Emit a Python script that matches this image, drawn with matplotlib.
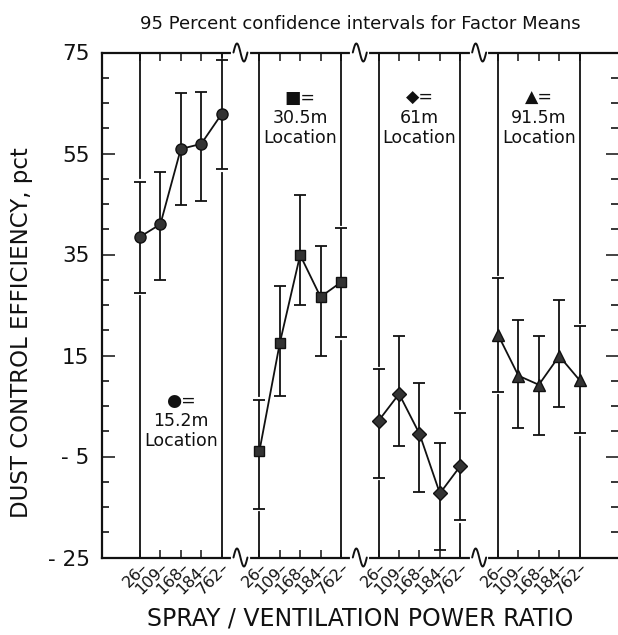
import numpy as np
import matplotlib
matplotlib.use("Agg")
import matplotlib.pyplot as plt
from matplotlib.ticker import MultipleLocator, FixedLocator

plt.rcParams['font.family'] = ['DejaVu Sans']

# ---------------- data ----------------
ratios = ["26", "109", "168", "184", "762"]
locations = ["15.2m", "30.5m", "61m", "91.5m"]
symbols = ["\u25CF", "\u25A0", "\u25C6", "\u25B2"]
markers = ["o", "s", "D", "^"]

mean_152 = [38.5, 41.0, 55.9, 56.9, 62.8]
low_152 = [27.4, 30.0, 44.8, 45.5, 51.9]
up_152 = [49.4, 51.3, 66.9, 67.2, 73.5]

mean_305 = [-4.0, 17.4, 34.9, 26.6, 29.5]
low_305 = [-15.3, 7.0, 25.0, 15.0, 18.6]
up_305 = [6.2, 28.8, 46.8, 36.7, 40.2]

mean_61 = [2.1, 7.4, -0.5, -12.3, -6.9]
low_61 = [-9.2, -2.9, -12.1, -23.5, -17.6]
up_61 = [12.3, 18.9, 9.5, -2.4, 3.7]

mean_915 = [19.1, 11.0, 9.2, 14.9, 10.1]
low_915 = [7.8, 0.6, -0.7, 4.9, -0.4]
up_915 = [30.3, 22.0, 18.9, 26.0, 20.8]

means = [mean_152, mean_305, mean_61, mean_915]
lows = [low_152, low_305, low_61, low_915]
ups = [up_152, up_305, up_61, up_915]

ytick_vals = [75, 55, 35, 15, -5, -25]
ytick_labels = ["75", "55", "35", "15", "- 5", "- 25"]

title = "95 Percent confidence intervals for Factor Means"
xlabel = "SPRAY / VENTILATION POWER RATIO"
ylabel = "DUST CONTROL EFFICIENCY, pct"

# ---------------- layout ----------------
W, H = 618, 635
fig = plt.figure(figsize=(W / 100, H / 100), dpi=100)
ax_l, ax_r, ax_t, ax_b = 102, 618, 52.5, 557.5
ax = fig.add_axes([ax_l / W, 1 - ax_b / H, (ax_r - ax_l) / W, (ax_b - ax_t) / H])

unit = 20.4
goff = 5.85
ax.set_xlim((ax_l - 140) / unit, (ax_r - 140) / unit)
ax.set_ylim(-25, 75)

ink = "#111111"
face = "#333333"
lw = 1.3

all_x = []
for g in range(4):
    xs = g * goff + np.arange(5)
    all_x.extend(xs)
    m = np.array(means[g])
    lo = np.array(lows[g])
    hi = np.array(ups[g])
    # vertical dividers at first/last ratio with small gaps near the caps
    for j in (0, 4):
        gap = 0.7
        ax.plot([xs[j], xs[j]], [-25, lo[j] - gap], color=ink, lw=lw, zorder=2)
        ax.plot([xs[j], xs[j]], [hi[j] + gap, 75], color=ink, lw=lw, zorder=2)
    ax.errorbar(xs, m, yerr=[m - lo, hi - m], fmt="none", ecolor=ink,
                elinewidth=lw, capsize=4.5, capthick=lw, zorder=3)
    ms = {"o": 8, "s": 7.5, "D": 7.5, "^": 8}[markers[g]]
    ax.plot(xs, m, color=ink, lw=lw, marker=markers[g], ms=ms,
            mfc=face, mec=ink, mew=1.0, zorder=4)

# annotations
ann_y = [2.0, 62.0, 62.0, 62.0]
for g in range(4):
    xc = g * goff + 2
    ax.text(xc, ann_y[g], f"{symbols[g]}=\n{locations[g]}\nLocation",
            ha="center", va="center", fontsize=12.5, linespacing=1.15,
            color=ink, zorder=5)

# ticks
ax.xaxis.set_major_locator(FixedLocator(all_x))
ax.set_xticklabels([r + "\u2013" for r in ratios] * 4, rotation=45,
                   ha="right", va="top", rotation_mode="anchor", fontsize=11.5)
ax.tick_params(axis="x", direction="in", length=6, width=1.1, top=True,
               pad=1.5, colors=ink)
ax.set_yticks(ytick_vals)
ax.set_yticklabels(ytick_labels, fontsize=15.5)
ax.yaxis.set_minor_locator(MultipleLocator(5))
ax.tick_params(axis="y", which="major", direction="in", length=9, width=1.1,
               right=True, pad=9, colors=ink)
ax.tick_params(axis="y", which="minor", direction="in", length=5, width=1.1,
               right=True)

for s in ["left", "bottom", "top"]:
    ax.spines[s].set_linewidth(1.6)
    ax.spines[s].set_color(ink)
ax.spines["right"].set_visible(False)

# axis breaks (squiggles) on top and bottom
amp = 9 / 5.05
hw = 7 / unit
t = np.linspace(-1, 1, 60)
for g in range(3):
    xb = g * goff + 4.925
    for yb in (75, -25):
        ax.plot([xb - hw * 1.05, xb + hw * 1.05], [yb, yb], color="white",
                lw=3, clip_on=False, zorder=6)
        ax.plot(xb + hw * t, yb + amp * np.sin(np.pi * (t + 1)), color=ink,
                lw=1.4, clip_on=False, zorder=7, solid_capstyle="round")

# titles
fig.text(360 / W, 1 - 24 / H, title, ha="center", va="center", fontsize=13,
         color=ink)
fig.text(360 / W, 1 - 619 / H, xlabel, ha="center", va="center", fontsize=17,
         color=ink)
fig.text(22 / W, 1 - 333 / H, ylabel, ha="center", va="center", fontsize=16.5,
         rotation=90, color=ink)

fig.savefig("out.png", dpi=100, facecolor="white")
